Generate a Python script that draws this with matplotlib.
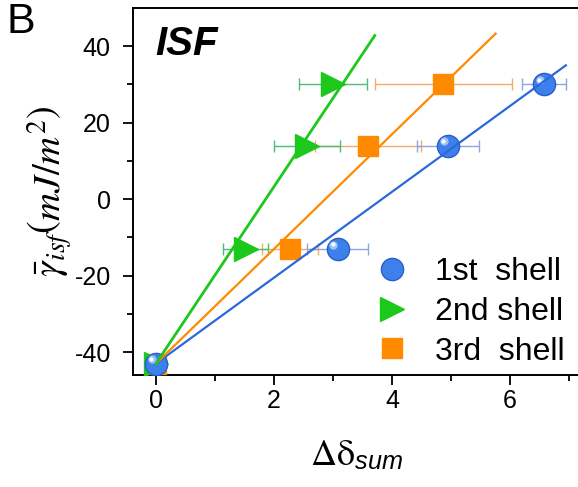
import numpy as np
import matplotlib
matplotlib.use("Agg")
import matplotlib.pyplot as plt
from matplotlib.lines import Line2D
from matplotlib.transforms import offset_copy

plt.rcParams['font.family'] = ['Liberation Sans', 'DejaVu Sans']
plt.rcParams['axes.unicode_minus'] = False
plt.rcParams['mathtext.fontset'] = 'custom'
plt.rcParams['mathtext.rm'] = 'STIXGeneral'
plt.rcParams['mathtext.it'] = 'STIXGeneral:italic'
plt.rcParams['mathtext.bf'] = 'STIXGeneral:bold'
plt.rcParams['mathtext.sf'] = 'Liberation Sans:italic'

# data
y_levels = [-43, -13, 14, 30]

x_1st = [0.0, 3.08, 4.95, 6.58]
xerr_1st = [0.0, 0.52, 0.53, 0.38]
x_2nd = [0.0, 1.52, 2.56, 3.0]
xerr_2nd = [0.0, 0.38, 0.56, 0.58]
x_3rd = [0.0, 2.27, 3.6, 4.87]
xerr_3rd = [0.0, 0.48, 0.9, 1.16]

# fitted lines (end points)
fit_1st_x = [0.0, 6.95]
fit_1st_y = [-43, 35]
fit_2nd_x = [0.0, 3.71]
fit_2nd_y = [-43, 42.8]
fit_3rd_x = [0.0, 5.76]
fit_3rd_y = [-43, 43.3]

labels = ['1st  shell', '2nd shell', '3rd  shell']

c_blue, c_blue_err, c_blue_line = '#3d80ec', '#8ea4de', '#2a68dc'
c_green, c_green_err = '#1cc81c', '#4cbc78'
c_orange, c_orange_err = '#ff8a00', '#f4aa6a'

fig = plt.figure(figsize=(5.78, 4.87), dpi=100)
ax = fig.add_axes([133 / 578, 1 - 375 / 487, 447 / 578, 367 / 487])

# error bars
ax.errorbar(x_3rd, y_levels, xerr=xerr_3rd, fmt='none', ecolor=c_orange_err,
            elinewidth=1.0, capsize=4, capthick=1.0, zorder=2)
ax.errorbar(x_2nd, y_levels, xerr=xerr_2nd, fmt='none', ecolor=c_green_err,
            elinewidth=1.0, capsize=4, capthick=1.0, zorder=2)
ax.errorbar(x_1st, y_levels, xerr=xerr_1st, fmt='none', ecolor=c_blue_err,
            elinewidth=1.0, capsize=4, capthick=1.0, zorder=2)

# markers
ax.plot(x_3rd, y_levels, 's', ms=14, color=c_orange, mec=c_orange, zorder=3)
ax.plot(x_2nd, y_levels, '>', ms=17, color=c_green, mec=c_green, zorder=4)
ax.plot(x_1st, y_levels, 'o', ms=16, color=c_blue, mec='#2a5fc8', mew=1.0, zorder=5)
hl = offset_copy(ax.transData, fig=fig, x=-3, y=3, units='points')
ax.plot(x_1st, y_levels, 'o', ms=6, color='#a9c9ff', mec='none', alpha=0.9,
        transform=hl, zorder=5.5)
hl2 = offset_copy(ax.transData, fig=fig, x=-3.5, y=3.5, units='points')
ax.plot(x_1st, y_levels, 'o', ms=3, color='white', mec='none', transform=hl2, zorder=5.6)

# fit lines
ax.plot(fit_1st_x, fit_1st_y, '-', color=c_blue_line, lw=1.6, zorder=6)
ax.plot(fit_3rd_x, fit_3rd_y, '-', color=c_orange, lw=1.6, zorder=6)
ax.plot(fit_2nd_x, fit_2nd_y, '-', color=c_green, lw=2.0, zorder=6)

ax.set_xlim(-0.39, 7.19)
ax.set_ylim(-46, 50)
ax.set_xticks([0, 2, 4, 6])
ax.set_xticks([1, 3, 5, 7], minor=True)
ax.set_yticks([-40, -20, 0, 20, 40])
ax.set_yticks([-30, -10, 10, 30], minor=True)
ax.tick_params(which='major', direction='out', length=7, width=1.3, labelsize=18)
ax.tick_params(which='minor', direction='out', length=4, width=1.3)
ax.tick_params(axis='x', which='major', pad=3)
ax.tick_params(axis='y', which='major', pad=9)
for s in ['left', 'bottom', 'top']:
    ax.spines[s].set_linewidth(1.4)
ax.spines['right'].set_visible(False)

ax.set_xlabel(r'$\Delta\mathrm{\delta}_{\mathsf{sum}}$', fontsize=26, labelpad=18)
ax.set_ylabel(r'$\bar{\gamma}_{isf}\left(mJ/m^2\right)$', fontsize=28, labelpad=0)

ax.text(0.05, 0.955, 'ISF', transform=ax.transAxes, fontsize=29,
        fontweight='bold', fontstyle='italic', va='top', ha='left')
fig.text(0.012, 0.995, 'B', fontsize=31, va='top', ha='left')

handles = [
    Line2D([], [], ls='none', marker='o', ms=16, color=c_blue, mec='#2a5fc8'),
    Line2D([], [], ls='none', marker='>', ms=17, color=c_green),
    Line2D([], [], ls='none', marker='s', ms=14, color=c_orange),
]
ax.legend(handles, labels, loc='lower right', bbox_to_anchor=(0.995, -0.012),
          borderaxespad=0.0, frameon=False, fontsize=23, handletextpad=0.85,
          labelspacing=0.30, handlelength=1.0)

fig.savefig('out.png', dpi=100)
